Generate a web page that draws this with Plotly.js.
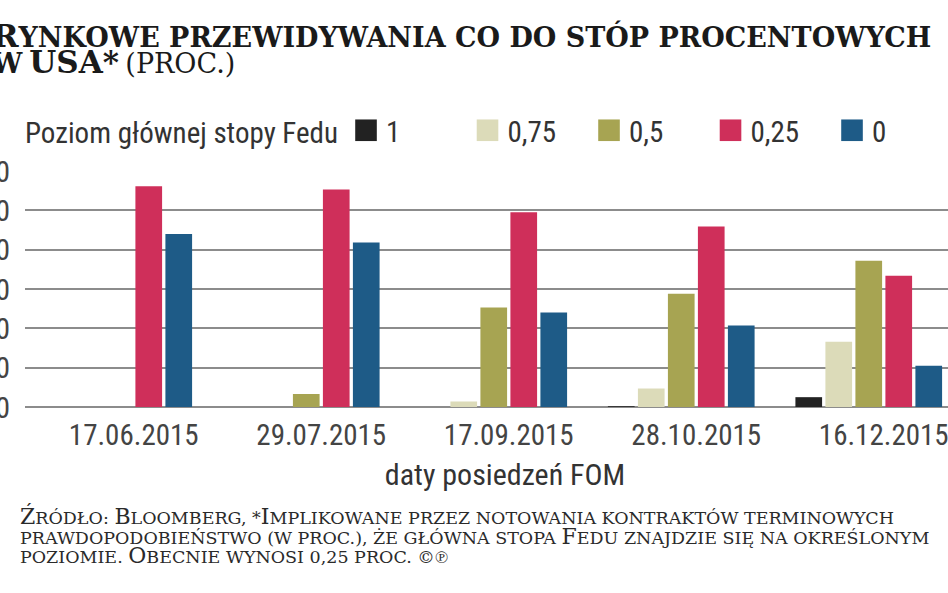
<!DOCTYPE html>
<html>
<head>
<meta charset="utf-8">
<script src="https://cdn.plot.ly/plotly-3.0.1.min.js"></script>
<style>
  html, body { margin: 0; padding: 0; background: #fff; }
  body { width: 948px; height: 593px; overflow: hidden; position: relative; }
  #chart { position: absolute; left: -40px; top: 0; width: 1025px; height: 593px; }
  #chart .legendpoints path { transform: translate(20px, 0) scale(1.8); }
</style>
</head>
<body>
<div id="chart"></div>
<script>
// ---- data ----
const dates = ['17.06.2015', '29.07.2015', '17.09.2015', '28.10.2015', '16.12.2015'];
const seriesNames = ['1', '0,75', '0,5', '0,25', '0'];
const rate1   = [0, 0, 0, 0.2, 2.5];
const rate075 = [0, 0, 1.4, 4.7, 16.6];
const rate05  = [0, 3.3, 25.3, 28.8, 37.2];
const rate025 = [56.1, 55.3, 49.5, 45.9, 33.4];
const rate0   = [44.0, 41.8, 24.0, 20.7, 10.5];
const yTicks  = [0, 10, 20, 30, 40, 50, 60];

// ---- style ----
const colors = ['#222222', '#dcdbb9', '#a7a452', '#cf2f5a', '#1e5b87'];
const values = [rate1, rate075, rate05, rate025, rate0];
const slot = 0.16, barW = 0.1423;
const sans = 'Roboto Condensed, Liberation Sans, sans-serif';
const serif = 'DejaVu Serif, serif';

const traces = values.map((v, i) => ({
  type: 'bar',
  name: seriesNames[i],
  x: dates,
  y: v,
  width: barW,
  offset: (i - 2.5) * slot - barW / 2,
  marker: { color: colors[i], line: { width: 0 } },
  hoverinfo: 'x+y+name'
}));

const titleText =
  '<b><span style="font-size:32px">R</span><span style="font-size:27px">YNKOWE PRZEWIDYWANIA CO DO STÓP PROCENTOWYCH</span><br>' +
  '<span style="font-size:27px">W</span> <span style="font-size:31px">USA*</span></b> <span style="font-size:27px">(PROC.)</span>';

const sc = (s) => '<span style="font-size:17.5px">' + s + '</span>';
const big = (s) => '<span style="font-size:22px">' + s + '</span>';
const noteText =
  big('Ź') + sc('RÓDŁO: ') + big('B') + sc('LOOMBERG, *') + big('I') + sc('MPLIKOWANE PRZEZ NOTOWANIA KONTRAKTÓW TERMINOWYCH') + '<br>' +
  sc('PRAWDOPODOBIEŃSTWO (W PROC.), ŻE GŁÓWNA STOPA ') + big('F') + sc('EDU ZNAJDZIE SIĘ NA OKREŚLONYM') + '<br>' +
  sc('POZIOMIE. ') + big('O') + sc('BECNIE WYNOSI 0,25 PROC. ©℗');

const layout = {
  width: 1025,
  height: 593,
  margin: { l: 65, r: 0, t: 171, b: 186 },
  paper_bgcolor: '#ffffff',
  plot_bgcolor: '#ffffff',
  barmode: 'overlay',
  showlegend: true,
  title: {
    text: titleText,
    xref: 'container', x: 32 / 1025, xanchor: 'left',
    yref: 'container', y: 1 - 47 / 593, yanchor: 'top',
    font: { family: serif, size: 20, color: '#1a1a1a' }
  },
  legend: {
    orientation: 'h',
    x: -0.0021, xanchor: 'left',
    y: 1.172, yanchor: 'middle',
    font: { family: sans, size: 29, color: '#333333' },
    title: { text: 'Poziom głównej stopy Fedu', side: 'left', font: { family: sans, size: 29, color: '#333333' } },
    entrywidth: 76.5,
    bgcolor: 'rgba(0,0,0,0)'
  },
  xaxis: {
    type: 'category',
    range: [-0.58, 4.54],
    showgrid: false,
    showline: false,
    zeroline: false,
    ticks: '',
    ticklabelstandoff: 8,
    tickfont: { family: sans, size: 29, color: '#444444' },
    title: { text: 'daty posiedzeń FOM', font: { family: sans, size: 30, color: '#333333' }, standoff: 12 },
    fixedrange: true
  },
  yaxis: {
    range: [0, 60],
    tickvals: yTicks,
    ticktext: yTicks.map(String),
    showgrid: true,
    gridcolor: '#8c8c8c',
    gridwidth: 2,
    zeroline: true,
    zerolinecolor: '#8c8c8c',
    zerolinewidth: 2,
    showline: false,
    ticks: '',
    ticklabelstandoff: 14,
    tickfont: { family: sans, size: 30, color: '#444444' },
    fixedrange: true
  },
  annotations: [{
    text: noteText,
    xref: 'paper', x: -0.0073, xanchor: 'left',
    yref: 'paper', y: -0.398, yanchor: 'top',
    align: 'left',
    showarrow: false,
    font: { family: serif, size: 15, color: '#2a2a2a' }
  }]
};

Plotly.newPlot('chart', traces, layout, { displayModeBar: false, staticPlot: true });
</script>
</body>
</html>
